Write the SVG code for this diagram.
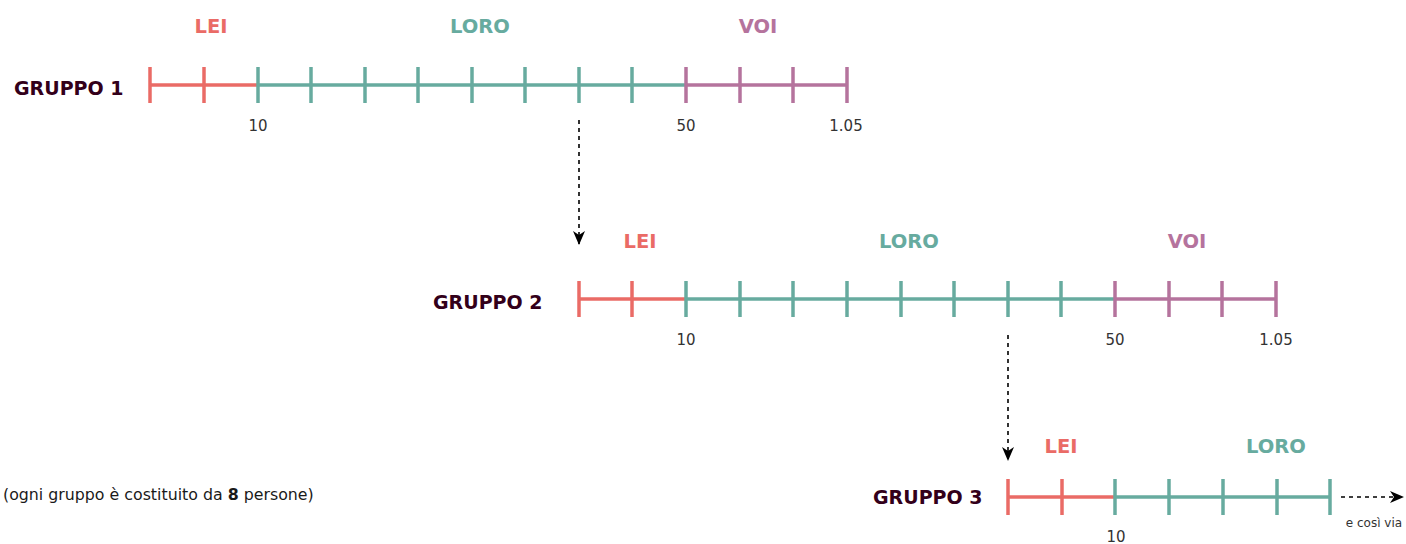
<svg xmlns="http://www.w3.org/2000/svg" width="1406" height="544" viewBox="0 0 1406 544">
<defs>
<style>
.lbl{font-family:"DejaVu Sans",Verdana,sans-serif;font-weight:bold;font-size:19.5px;text-anchor:middle}
.grp{font-family:"DejaVu Sans",Verdana,sans-serif;font-weight:bold;font-size:19px;fill:#33001A}
.num{font-family:"DejaVu Sans",Verdana,sans-serif;font-size:15px;fill:#333333;text-anchor:middle}
.red{stroke:#EA6B66;fill:#EA6B66}
.teal{stroke:#67AB9F;fill:#67AB9F}
.purp{stroke:#B5739D;fill:#B5739D}
line.s{stroke-width:3.5}
text.red,text.teal,text.purp{stroke:none}
.conn{stroke:#000;stroke-width:1.6;stroke-dasharray:4 4;fill:none}
</style>
<marker id="arr" viewBox="0 0 16 16" refX="15" refY="8" markerWidth="16" markerHeight="16" markerUnits="userSpaceOnUse" orient="auto">
<path d="M1,2 L15,8 L1,14 L5,8 Z" fill="#000"/>
</marker>
</defs>

<g id="group1">
<text class="grp" x="14" y="95">GRUPPO 1</text>
<text class="lbl red" x="211" y="33">LEI</text>
<text class="lbl teal" x="480" y="33">LORO</text>
<text class="lbl purp" x="758" y="33">VOI</text>
<line class="s red" x1="150" y1="85" x2="258" y2="85"/>
<line class="s teal" x1="258" y1="85" x2="686" y2="85"/>
<line class="s purp" x1="686" y1="85" x2="847" y2="85"/>
<g class="red"><line class="s" x1="150" y1="67" x2="150" y2="103"/><line class="s" x1="204" y1="67" x2="204" y2="103"/></g>
<g class="teal"><line class="s" x1="258" y1="67" x2="258" y2="103"/><line class="s" x1="311" y1="67" x2="311" y2="103"/><line class="s" x1="365" y1="67" x2="365" y2="103"/><line class="s" x1="418" y1="67" x2="418" y2="103"/><line class="s" x1="472" y1="67" x2="472" y2="103"/><line class="s" x1="525" y1="67" x2="525" y2="103"/><line class="s" x1="579" y1="67" x2="579" y2="103"/><line class="s" x1="632" y1="67" x2="632" y2="103"/></g>
<g class="purp"><line class="s" x1="686" y1="67" x2="686" y2="103"/><line class="s" x1="740" y1="67" x2="740" y2="103"/><line class="s" x1="793" y1="67" x2="793" y2="103"/><line class="s" x1="847" y1="67" x2="847" y2="103"/></g>
<text class="num" x="258" y="131">10</text>
<text class="num" x="686" y="131">50</text>
<text class="num" x="846" y="131">1.05</text>
</g>

<g id="group2">
<text class="grp" x="433" y="309">GRUPPO 2</text>
<text class="lbl red" x="640" y="248">LEI</text>
<text class="lbl teal" x="909" y="248">LORO</text>
<text class="lbl purp" x="1187" y="248">VOI</text>
<line class="s red" x1="579" y1="299" x2="686" y2="299"/>
<line class="s teal" x1="686" y1="299" x2="1115" y2="299"/>
<line class="s purp" x1="1115" y1="299" x2="1276" y2="299"/>
<g class="red"><line class="s" x1="579" y1="281" x2="579" y2="317"/><line class="s" x1="632" y1="281" x2="632" y2="317"/></g>
<g class="teal"><line class="s" x1="686" y1="281" x2="686" y2="317"/><line class="s" x1="740" y1="281" x2="740" y2="317"/><line class="s" x1="793" y1="281" x2="793" y2="317"/><line class="s" x1="847" y1="281" x2="847" y2="317"/><line class="s" x1="901" y1="281" x2="901" y2="317"/><line class="s" x1="954" y1="281" x2="954" y2="317"/><line class="s" x1="1008" y1="281" x2="1008" y2="317"/><line class="s" x1="1061" y1="281" x2="1061" y2="317"/></g>
<g class="purp"><line class="s" x1="1115" y1="281" x2="1115" y2="317"/><line class="s" x1="1169" y1="281" x2="1169" y2="317"/><line class="s" x1="1222" y1="281" x2="1222" y2="317"/><line class="s" x1="1276" y1="281" x2="1276" y2="317"/></g>
<text class="num" x="686" y="345">10</text>
<text class="num" x="1115" y="345">50</text>
<text class="num" x="1276" y="345">1.05</text>
</g>

<g id="group3">
<text class="grp" x="873" y="504">GRUPPO 3</text>
<text class="lbl red" x="1061" y="453">LEI</text>
<text class="lbl teal" x="1276" y="453">LORO</text>
<line class="s red" x1="1008" y1="497" x2="1115" y2="497"/>
<line class="s teal" x1="1115" y1="497" x2="1330" y2="497"/>
<g class="red"><line class="s" x1="1008" y1="479" x2="1008" y2="515"/><line class="s" x1="1062" y1="479" x2="1062" y2="515"/></g>
<g class="teal"><line class="s" x1="1115" y1="479" x2="1115" y2="515"/><line class="s" x1="1169" y1="479" x2="1169" y2="515"/><line class="s" x1="1223" y1="479" x2="1223" y2="515"/><line class="s" x1="1277" y1="479" x2="1277" y2="515"/><line class="s" x1="1330" y1="479" x2="1330" y2="515"/></g>
<text class="num" x="1116" y="542">10</text>
</g>

<g id="note">
<text x="3" y="500" style="font-family:'DejaVu Sans',Verdana,sans-serif;font-size:15.8px;fill:#1a1a1a">(ogni gruppo è costituito da <tspan font-weight="bold">8</tspan> persone)</text>
</g>

<g id="connectors">
<line class="conn" x1="579" y1="120" x2="579" y2="245" marker-end="url(#arr)"/>
<line class="conn" x1="1008" y1="335" x2="1008" y2="461" marker-end="url(#arr)"/>
<line class="conn" x1="1341" y1="497" x2="1404" y2="497" marker-end="url(#arr)"/>
<text x="1374" y="527" style="font-family:'DejaVu Sans',Verdana,sans-serif;font-size:12px;fill:#333333;text-anchor:middle">e così via</text>
</g>
</svg>
